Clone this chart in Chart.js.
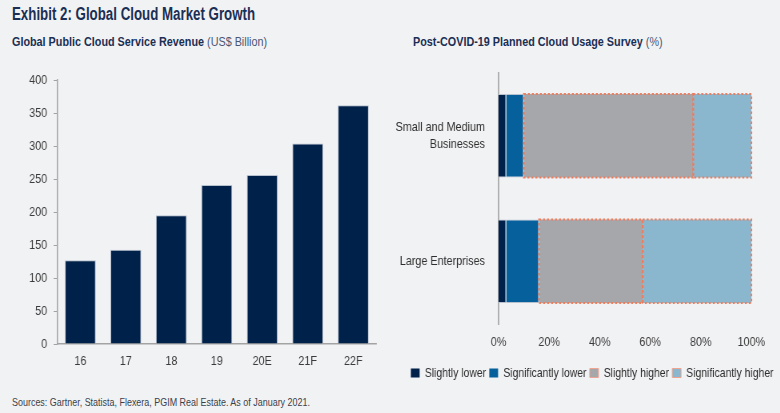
<!DOCTYPE html>
<html>
<head>
    <meta charset="utf-8" />
    <title>Global Cloud Market Growth</title>
    <script src="https://cdn.jsdelivr.net/npm/chart.js@4/dist/chart.umd.min.js"></script>
    <style>
        body, html {
            background: #f1f2f4;
            width: 780px;
            height: 413px;
            margin: 0;
            padding: 0;
            overflow: hidden;
            font-family: "Liberation Sans", Arial, sans-serif;
        }
        /* no condensed face installed, so squeeze text horizontally */
        .txt { position: absolute; white-space: nowrap; transform: scaleX(0.8); transform-origin: 0 0; }
        #title { left: 12px; top: 4px; font-size: 17.5px; font-weight: bold; color: #1b2f55; transform: scaleX(0.76); }
        .sub { top: 34px; font-size: 13.5px; font-weight: bold; color: #1b2f55; }
        .sub span { font-weight: normal; color: #4a5775; }
        #subL { left: 12px; }
        #subR { left: 413px; }
        #sources { left: 12px; top: 396px; font-size: 11.2px; color: #3a3f4a; }
        .box { position: absolute; transform: scaleX(0.8); transform-origin: 0 0; }
        #leftBox { left: 0; top: 64px; width: 478px; height: 306px; }
        #rightBox { left: 365px; top: 55.5px; width: 518px; height: 333.5px; }
    </style>
</head>
<body>
    <div id="title" class="txt">Exhibit 2: Global Cloud Market Growth</div>
    <div id="subL" class="txt sub">Global Public Cloud Service Revenue <span>(US$ Billion)</span></div>
    <div id="subR" class="txt sub">Post-COVID-19 Planned Cloud Usage Survey <span>(%)</span></div>
    <div id="leftBox" class="box"><canvas id="revChart"></canvas></div>
    <div id="rightBox" class="box"><canvas id="surveyChart"></canvas></div>
    <div id="sources" class="txt">Sources: Gartner, Statista, Flexera, PGIM Real Estate. As of January 2021.</div>

    <script>
        // revenue chart data (US$ bn)
        const years = ['16', '17', '18', '19', '20E', '21F', '22F'];
        const revenue = [127, 143, 195, 241, 256, 304, 362];

        // survey chart data (%)
        const segments = [['Small and Medium', 'Businesses'], 'Large Enterprises'];
        const slightlyLower = [3, 3];
        const significantlyLower = [7, 13];
        const slightlyHigher = [67, 41];
        const significantlyHigher = [23, 43];

        Chart.defaults.font.family = '"Liberation Sans", Arial, sans-serif';
        Chart.defaults.font.size = 13;
        Chart.defaults.color = '#3b3b3b';

        // dotted outline for the "higher" segments
        const dottedBorder = {
            id: 'dottedBorder',
            afterDatasetsDraw(chart) {
                const ctx = chart.ctx;
                ctx.save();
                ctx.strokeStyle = '#ee7d5e';
                ctx.lineWidth = 2;
                ctx.setLineDash([2.5, 2.5]);
                chart.data.datasets.forEach((ds, i) => {
                    if (!ds.dotted) return;
                    chart.getDatasetMeta(i).data.forEach(el => {
                        const p = el.getProps(['x', 'y', 'base', 'height'], true);
                        const x0 = Math.min(p.x, p.base), x1 = Math.max(p.x, p.base);
                        ctx.strokeRect(x0, p.y - p.height / 2, x1 - x0, p.height);
                    });
                });
                ctx.restore();
            }
        };

        // move the legend so it sits under the middle of the panel
        const legendCentre = {
            id: 'legendCentre',
            afterLayout(chart) {
                const lg = chart.legend;
                const half = (lg.right - lg.left) / 2;
                lg.left = 284 - half;
                lg.right = 284 + half;
            }
        };

        function renderCharts()
        {
            new Chart(document.getElementById('revChart').getContext('2d'), {
                type: 'bar',
                data: {
                    labels: years,
                    datasets: [{
                        data: revenue,
                        backgroundColor: '#00214a',
                        borderColor: '#b7c1ce',
                        borderWidth: 1,
                        barPercentage: 0.68,
                        categoryPercentage: 1
                    }]
                },
                options: {
                    responsive: true,
                    maintainAspectRatio: false,
                    animation: false,
                    layout: { padding: { top: 5, right: 8, left: 0, bottom: 0 } },
                    plugins: { legend: { display: false }, tooltip: { enabled: false } },
                    scales: {
                        x: {
                            grid: { display: false },
                            border: { display: true, color: '#a3a3a3', width: 1.5 },
                            ticks: { padding: 1, font: { size: 13.5 } },
                            afterFit: s => { s.height = 26; }
                        },
                        y: {
                            min: 0, max: 400,
                            ticks: { stepSize: 50, padding: 8, font: { size: 13.5 } },
                            grid: { display: true, drawOnChartArea: false, drawTicks: true, tickLength: 5, color: '#a3a3a3' },
                            border: { display: true, color: '#a3a3a3', width: 1.5 },
                            afterFit: s => { s.width = 72; }
                        }
                    }
                }
            });

            new Chart(document.getElementById('surveyChart').getContext('2d'), {
                type: 'bar',
                data: {
                    labels: segments,
                    datasets: [
                        { label: 'Slightly lower', data: slightlyLower, backgroundColor: '#00214a', borderColor: '#b7c1ce', borderWidth: 1 },
                        { label: 'Significantly lower', data: significantlyLower, backgroundColor: '#06609c', borderColor: '#b7c1ce', borderWidth: 1 },
                        { label: 'Slightly higher', data: slightlyHigher, backgroundColor: '#a6a7ab', borderWidth: 0, dotted: true },
                        { label: 'Significantly higher', data: significantlyHigher, backgroundColor: '#8ab7cd', borderWidth: 0, dotted: true }
                    ].map(d => Object.assign(d, { barPercentage: 0.665, categoryPercentage: 1 }))
                },
                options: {
                    indexAxis: 'y',
                    responsive: true,
                    maintainAspectRatio: false,
                    animation: false,
                    layout: { padding: { top: 5, right: 35, left: 0, bottom: 0 } },
                    plugins: {
                        tooltip: { enabled: false },
                        legend: {
                            position: 'bottom',
                            labels: {
                                boxWidth: 11,
                                boxHeight: 9,
                                padding: 4,
                                font: { size: 13 },
                                color: '#2e2e2e',
                                generateLabels: chart => chart.data.datasets.map((ds, i) => ({
                                    text: ds.label,
                                    fillStyle: ds.backgroundColor,
                                    strokeStyle: ds.dotted ? '#eea48e' : ds.backgroundColor,
                                    lineWidth: ds.dotted ? 1 : 0,
                                    datasetIndex: i,
                                    fontColor: '#2e2e2e'
                                }))
                            }
                        }
                    },
                    scales: {
                        x: {
                            stacked: true,
                            min: 0, max: 100,
                            ticks: { stepSize: 20, padding: 2, callback: v => v + '%', font: { size: 13.5 } },
                            grid: { display: false },
                            border: { display: false },
                            afterFit: s => { s.height = 38.5; }
                        },
                        y: {
                            stacked: true,
                            grid: { display: false },
                            border: { display: true, color: '#b0b0b0', width: 2 },
                            ticks: { padding: 9, font: { size: 13.5 }, color: '#2e2e2e' },
                            afterFit: s => { s.width = 167; }
                        }
                    }
                },
                plugins: [dottedBorder, legendCentre]
            });
        }
        window.addEventListener('DOMContentLoaded', renderCharts);
    </script>
</body>
</html>
